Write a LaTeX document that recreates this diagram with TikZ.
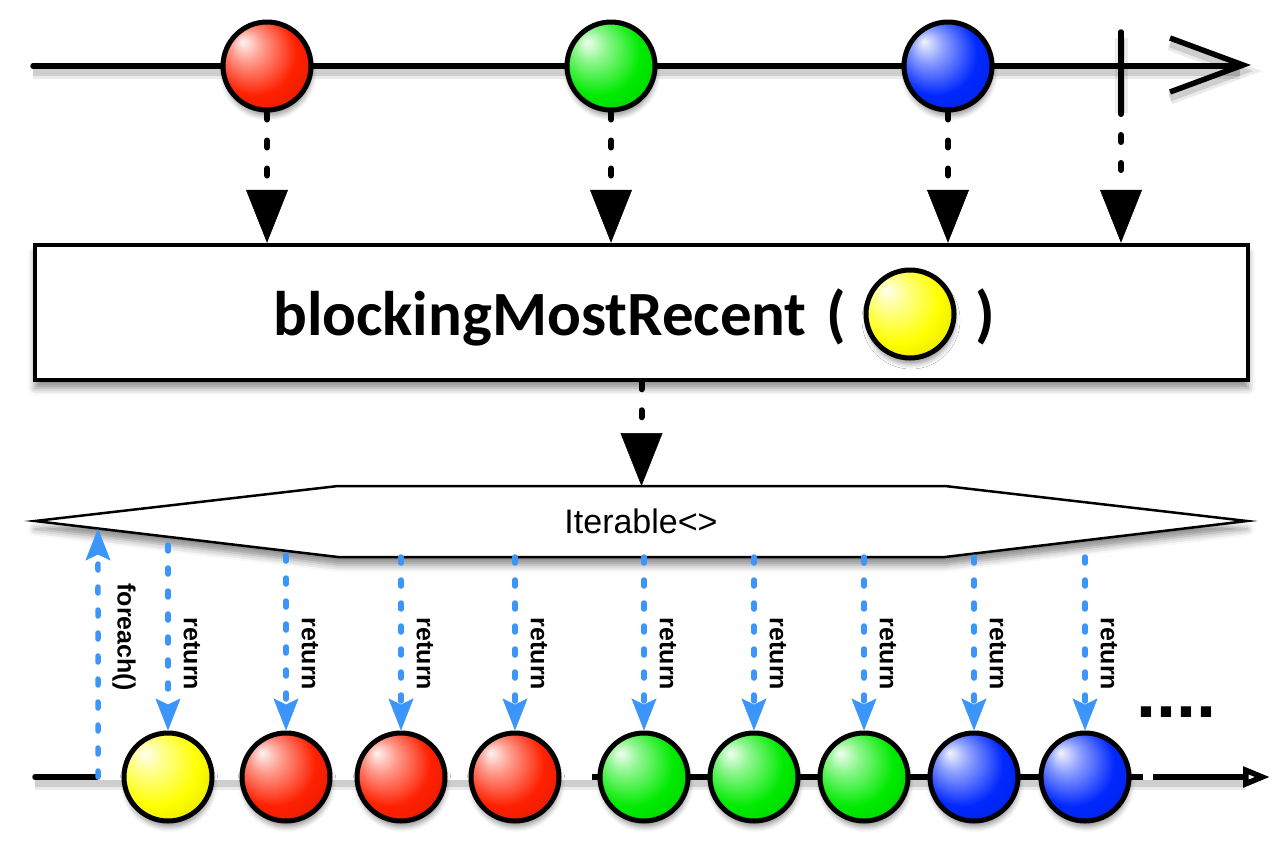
\documentclass[tikz,border=0pt]{standalone}
\usepackage{fontspec}
\setmainfont{Liberation Sans}
\newfontfamily\titlefont{Carlito}
\usetikzlibrary{arrows.meta,shadows.blur,calc}
\definecolor{mred}{RGB}{255,32,0}
\definecolor{mgreen}{RGB}{0,235,0}
\definecolor{mblue}{RGB}{0,40,255}
\definecolor{myellow}{RGB}{255,255,0}
\definecolor{cblue}{RGB}{60,150,250}
\colorlet{mc}{red}
\pgfdeclareradialshading[mc]{marble}{\pgfpoint{-14bp}{14bp}}{color(0bp)=(mc!5!white); color(9bp)=(mc!45!white); color(24bp)=(mc); color(40bp)=(mc!85!black); color(50bp)=(mc!45!black)}
\begin{document}
\begin{tikzpicture}[x=1pt,y=-1pt,
  marble/.style={circle, draw=black, line width=5pt, minimum size=88pt, inner sep=0pt,
     /utils/exec={\colorlet{mc}{#1}}, shade, shading=marble,
     blur shadow={shadow xshift=1pt, shadow yshift=-6pt, shadow blur radius=5pt, shadow opacity=40}},
  tl/.style={line width=5.5pt},
  lsh/.style={preaction={draw=black,opacity=0.08,line width=13pt,transform canvas={yshift=-6pt}},
              preaction={draw=black,opacity=0.12,line width=7pt,transform canvas={yshift=-6pt}}},
  blk/.style={black, opacity=1, line width=6pt, line cap=round, dash pattern=on 7pt off 21pt,
     -{Triangle[length=53pt,width=42pt,line width=0.5pt]}},
  ret/.style={cblue, line width=5.5pt, line cap=round, dash pattern=on 6pt off 17pt,
     -{Stealth[length=32pt,width=25pt,inset=6pt,line width=0.5pt]}},
  lbl/.style={font=\bfseries\fontsize{25}{25}\selectfont, rotate=-90, inner sep=0pt},
  ttlf/.style={font=\titlefont\bfseries\fontsize{63}{63}\selectfont, anchor=base west, inner sep=0pt},
]
\useasboundingbox (0,0) rectangle (1280,852);

% ---------- top timeline ----------
\path[lsh] (33,66) -- (1240,66);
\path[lsh] (1170,38) -- (1243,65) -- (1170,92);
\path[lsh] (1121,32) -- (1121,107);
\draw[tl, line cap=round] (33,66) -- (1240,66);
\draw[tl, line join=miter] (1170,38) -- (1243,65) -- (1170,92);
\draw[tl, line cap=round] (1121,32) -- (1121,107);
\coordinate (done) at (1121,107);

\node[marble=mred]   (t1) at (267,66) {};
\node[marble=mgreen] (t2) at (611,66) {};
\node[marble=mblue]  (t3) at (948,66) {};

% ---------- operator box ----------
\node[draw, line width=4.5pt, minimum width=1213pt, minimum height=135pt, inner sep=0pt, fill=white,
      blur shadow={shadow xshift=0pt, shadow yshift=-8pt, shadow blur radius=7pt, shadow opacity=45}]
      (op) at (641.5,312.5) {};
\node[ttlf] (ttl) at (273,335) {blockingMostRecent};
\node[ttlf] (lp) at (826,335) {(};
\node[marble=myellow] (ym) at (910,314) {};
\node[ttlf] (rp) at (975,335) {)};

\draw[blk] (t1.south) -- (t1.south |- op.north);
\draw[blk] (t2.south) -- (t2.south |- op.north);
\draw[blk] (t3.south) -- (t3.south |- op.north);
\draw[blk] (done) -- (done |- op.north);

% ---------- Iterable hexagon ----------
\coordinate (hL)  at (35,521);
\coordinate (hTL) at (338,486);
\coordinate (hTR) at (945,486);
\coordinate (hR)  at (1247,521);
\coordinate (hBR) at (945,557);
\coordinate (hBL) at (338,557);
\path[fill=white, blur shadow={shadow xshift=0pt, shadow yshift=-8pt, shadow blur radius=7pt, shadow opacity=45}]
  (hL) -- (hTL) -- (hTR) -- (hR) -- (hBR) -- (hBL) -- cycle;
\draw[line width=2.5pt, line join=miter] (hL) -- (hTL) -- (hTR) -- (hR) -- (hBR) -- (hBL) -- cycle;
\node[font=\fontsize{34}{34}\selectfont] (it) at (641,521) {Iterable<>};
\draw[blk] (op.south) -- (op.south |- hTL);

% ---------- bottom timeline ----------
\path[lsh] (35,777) -- (1245,777);
\draw[tl, line cap=round] (35,777) -- (98,777);
\draw[tl, white] (98,777) -- (592,777);
\draw[tl] (592,777) -- (1143,777);
\draw[tl, white] (1143,777) -- (1153,777);
\draw[tl, -{Triangle[open, length=27pt, width=20pt, fill=white]}] (1153,777) -- (1270,777);

\foreach \i/\x/\c/\sy in {1/168/myellow/545, 2/286/mred/555, 3/401/mred/557, 4/515/mred/557,
    5/644/mgreen/557, 6/754/mgreen/557, 7/864/mgreen/557, 8/974/mblue/557, 9/1085/mblue/557}{
  \node[marble=\c] (b\i) at (\x,777) {};
  \coordinate (r\i) at (\x,\sy);
  \draw[ret] (r\i) -- (b\i.north);
  \node[lbl] (l\i) at (\x+24,654) {return};
}

\coordinate (f0) at (98,777);
\coordinate (f1) at ($(hL)!{63/303}!(hBL)$);
\draw[ret] (f0) -- (f1);
\node[lbl] (fl) at (124,637) {foreach()};

\node[font=\bfseries\fontsize{72}{72}\selectfont, anchor=base west, inner sep=0pt] (dots) at (1136,717) {....};
\end{tikzpicture}
\end{document}
